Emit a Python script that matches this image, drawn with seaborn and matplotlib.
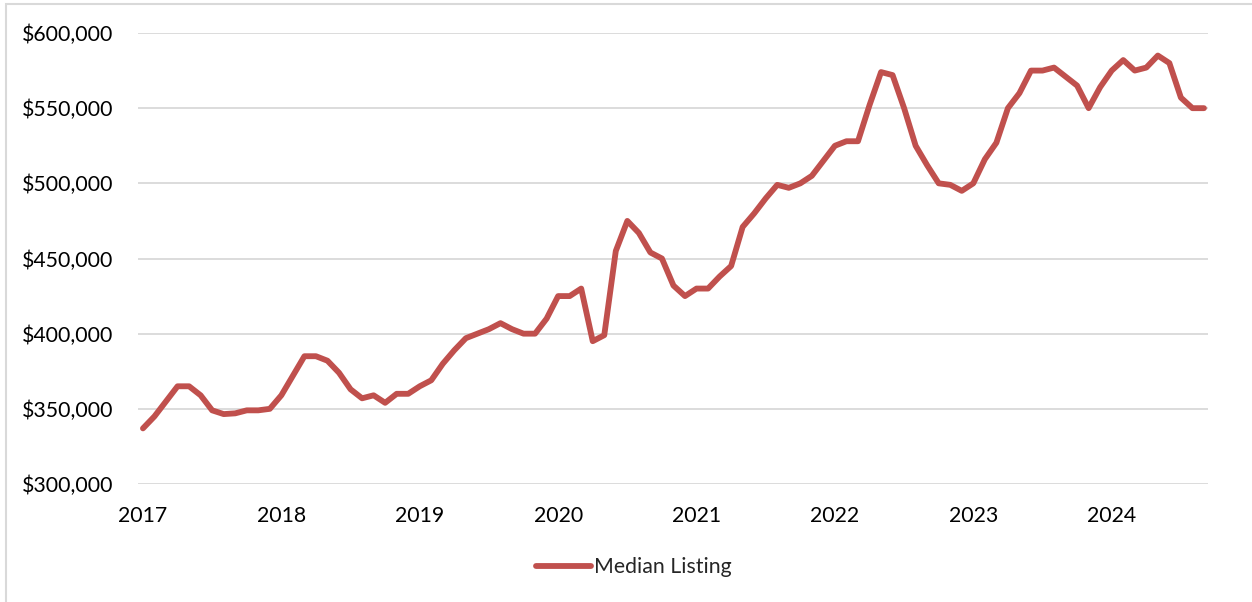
import numpy as np
import pandas as pd
import matplotlib
matplotlib.use("Agg")
import matplotlib.pyplot as plt
import matplotlib.patches as mpatches
import seaborn as sns

# monthly median listing price, Jan 2017 - Sep 2024
years = ["2017", "2018", "2019", "2020", "2021", "2022", "2023", "2024"]
v2017 = [337000, 345000, 355000, 365000, 365000, 359000, 349000, 346500, 347000, 349000, 349000, 350000]
v2018 = [359000, 372000, 385000, 385000, 382000, 374000, 363000, 357000, 359000, 354000, 360000, 360000]
v2019 = [365000, 369000, 380000, 389000, 397000, 400000, 403000, 407000, 403000, 400000, 400000, 410000]
v2020 = [425000, 425000, 430000, 395000, 399000, 455000, 475000, 467000, 454000, 450000, 432000, 425000]
v2021 = [430000, 430000, 438000, 445000, 471000, 480000, 490000, 499000, 497000, 500000, 505000, 515000]
v2022 = [525000, 528000, 528000, 552000, 574000, 572000, 550000, 525000, 512000, 500000, 499000, 495000]
v2023 = [500000, 516000, 527000, 550000, 560000, 575000, 575000, 577000, 571000, 565000, 550000, 564000]
v2024 = [575000, 582000, 575000, 577000, 585000, 580000, 557000, 550000, 550000]

values = v2017 + v2018 + v2019 + v2020 + v2021 + v2022 + v2023 + v2024
df = pd.DataFrame({"month": np.arange(len(values)), "price": values})

sns.set_style("white")
plt.rcParams["font.family"] = ["Lato", "DejaVu Sans"]

fig = plt.figure(figsize=(12.52, 6.02), dpi=100)
ax = fig.add_axes([138 / 1252, 1 - 484 / 602, 1070 / 1252, 451 / 602])

sns.lineplot(data=df, x="month", y="price", color="#C0504D", linewidth=4.2,
             label="Median Listing", ax=ax, legend=False)

ax.set_xlim(-0.43, 92.35)
ax.set_ylim(300000, 600000)
ax.set_yticks(np.arange(300000, 600001, 50000))
ax.set_yticklabels(["${:,.0f}".format(v) for v in np.arange(300000, 600001, 50000)])
ax.set_xticks(np.arange(0, 85, 12))
ax.set_xticklabels(years)
ax.set_xlabel("")
ax.set_ylabel("")
ax.grid(axis="y", color="#d9d9d9", linewidth=1.3)
ax.grid(axis="x", visible=False)
for s in ax.spines.values():
    s.set_visible(False)
ax.tick_params(axis="both", length=0, labelsize=15.3, colors="black")
ax.tick_params(axis="y", pad=18)
ax.tick_params(axis="x", pad=16)

handle = plt.Line2D([], [], color="#C0504D", linewidth=4.2, solid_capstyle="round")
fig.legend([handle], ["Median Listing"], loc="center", bbox_to_anchor=(634 / 1252, 1 - 567 / 602),
           frameon=False, fontsize=15.3, handlelength=2.6, handletextpad=0.15)

# light border around the chart area
fig.patches.append(mpatches.Rectangle((6 / 1252, -0.1), 1.2, 1 - 3.5 / 602 + 0.1,
                                      transform=fig.transFigure, fill=False,
                                      edgecolor="#d9d9d9", linewidth=1.5))

fig.savefig("out.png", dpi=100)
